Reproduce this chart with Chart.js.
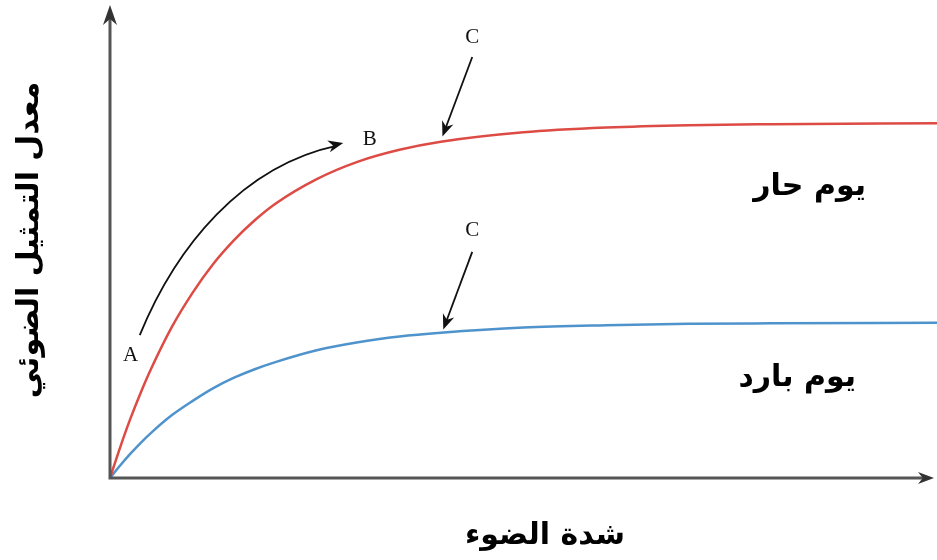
<!DOCTYPE html>
<html>
<head>
<meta charset="utf-8">
<script src="https://cdn.jsdelivr.net/npm/chart.js@4/dist/chart.umd.min.js"></script>
<style>
  html, body { margin: 0; padding: 0; background: #fff; }
  canvas { display: block; }
</style>
</head>
<body>
<canvas id="chart" width="937" height="560"></canvas>
<script>
// light intensity (arbitrary units) and photosynthesis rate
const lightLevels = [0, 0.125, 0.25, 0.375, 0.5, 0.75, 1, 1.25, 1.5, 1.75, 2, 2.5, 3, 3.5, 4, 5, 6, 7, 8, 10];
const hotDay  = [0, 0.66, 1.27, 1.82, 2.32, 3.2, 3.92, 4.53, 5.03, 5.45, 5.8, 6.32, 6.69, 6.94, 7.11, 7.31, 7.41, 7.46, 7.48, 7.5];
const coldDay = [0, 0.27, 0.52, 0.75, 0.96, 1.33, 1.63, 1.9, 2.12, 2.3, 2.45, 2.7, 2.87, 2.99, 3.07, 3.18, 3.23, 3.26, 3.27, 3.28];

const xTitle = 'شدة الضوء';
const yTitle = 'معدل التمثيل الضوئي';
const hotLabel = 'يوم حار';
const coldLabel = 'يوم بارد';

// annotation letters, in data units
const letters = [
    { text: 'A', x: 0.25, y: 2.6 },
    { text: 'B', x: 3.14, y: 7.15 },
    { text: 'C', x: 4.38, y: 9.32 },
    { text: 'C', x: 4.38, y: 5.24 }
];
const straightArrows = [
    { from: [4.38, 8.9], to: [4.02, 7.22] },
    { from: [4.38, 4.78], to: [4.03, 3.14] }
];
const curvedArrow = [[0.36, 3.02], [0.8, 4.9], [1.6, 6.6], [2.82, 7.08]];

function arrowHead(ctx, x, y, angle, len, half) {
    ctx.save();
    ctx.translate(x, y);
    ctx.rotate(angle);
    ctx.beginPath();
    ctx.moveTo(0, 0);
    ctx.lineTo(-len, -half);
    ctx.lineTo(-len * 0.7, 0);
    ctx.lineTo(-len, half);
    ctx.closePath();
    ctx.fill();
    ctx.restore();
}

const decorPlugin = {
    id: 'decor',
    afterDatasetsDraw(chart) {
        const ctx = chart.ctx;
        const xs = chart.scales.x, ys = chart.scales.y;
        const area = chart.chartArea;
        const px = v => xs.getPixelForValue(v);
        const py = v => ys.getPixelForValue(v);
        ctx.save();

        // axes with arrow heads
        ctx.strokeStyle = '#555';
        ctx.fillStyle = '#333';
        ctx.lineWidth = 3;
        ctx.beginPath();
        ctx.moveTo(area.left, area.bottom);
        ctx.lineTo(area.left, area.top + 14);
        ctx.moveTo(area.left - 1.5, area.bottom);
        ctx.lineTo(area.right - 12, area.bottom);
        ctx.stroke();
        arrowHead(ctx, area.left, area.top, -Math.PI / 2, 20, 7);
        arrowHead(ctx, area.right - 3, area.bottom, 0, 16, 6);

        // straight arrows to the C points
        ctx.strokeStyle = '#111';
        ctx.fillStyle = '#111';
        ctx.lineWidth = 1.8;
        straightArrows.forEach(a => {
            const x1 = px(a.from[0]), y1 = py(a.from[1]);
            const x2 = px(a.to[0]), y2 = py(a.to[1]);
            const ang = Math.atan2(y2 - y1, x2 - x1);
            ctx.beginPath();
            ctx.moveTo(x1, y1);
            ctx.lineTo(x2 - 8 * Math.cos(ang), y2 - 8 * Math.sin(ang));
            ctx.stroke();
            arrowHead(ctx, x2, y2, ang, 15, 6);
        });

        // curved arrow from A to B
        const c = curvedArrow.map(p => [px(p[0]), py(p[1])]);
        ctx.beginPath();
        ctx.moveTo(c[0][0], c[0][1]);
        ctx.bezierCurveTo(c[1][0], c[1][1], c[2][0], c[2][1], c[3][0] - 6, c[3][1] + 2.5);
        ctx.stroke();
        arrowHead(ctx, c[3][0], c[3][1], Math.atan2(c[3][1] - c[2][1], c[3][0] - c[2][0]), 15, 6);

        // letters
        ctx.font = '21px "Liberation Serif", "DejaVu Serif", serif';
        ctx.textAlign = 'center';
        ctx.textBaseline = 'middle';
        letters.forEach(l => ctx.fillText(l.text, px(l.x), py(l.y)));

        // Arabic labels
        ctx.font = 'bold 30px "DejaVu Sans", sans-serif';
        ctx.fillStyle = '#000';
        ctx.fillText(hotLabel, px(8.46), py(6.15));
        ctx.fillText(coldLabel, px(8.31), py(2.11));
        ctx.fillText(xTitle, px(5.26), area.bottom + 58);

        ctx.translate(30, 240);
        ctx.rotate(-Math.PI / 2);
        ctx.fillText(yTitle, 0, 0);
        ctx.restore();
    }
};

new Chart(document.getElementById('chart'), {
    type: 'line',
    data: {
        labels: lightLevels,
        datasets: [
            {
                label: hotLabel,
                data: lightLevels.map((x, i) => ({ x, y: hotDay[i] })),
                borderColor: '#dd4b45',
                borderWidth: 2.5,
                pointRadius: 0,
                cubicInterpolationMode: 'monotone'
            },
            {
                label: coldLabel,
                data: lightLevels.map((x, i) => ({ x, y: coldDay[i] })),
                borderColor: '#4f93cc',
                borderWidth: 2.5,
                pointRadius: 0,
                cubicInterpolationMode: 'monotone'
            }
        ]
    },
    options: {
        responsive: false,
        animation: false,
        layout: { padding: { left: 110, top: 5, right: 0, bottom: 82 } },
        plugins: { legend: { display: false }, tooltip: { enabled: false } },
        scales: {
            x: { type: 'linear', min: 0, max: 10, display: false },
            y: { min: 0, max: 10, display: false }
        }
    },
    plugins: [decorPlugin]
});
</script>
</body>
</html>
